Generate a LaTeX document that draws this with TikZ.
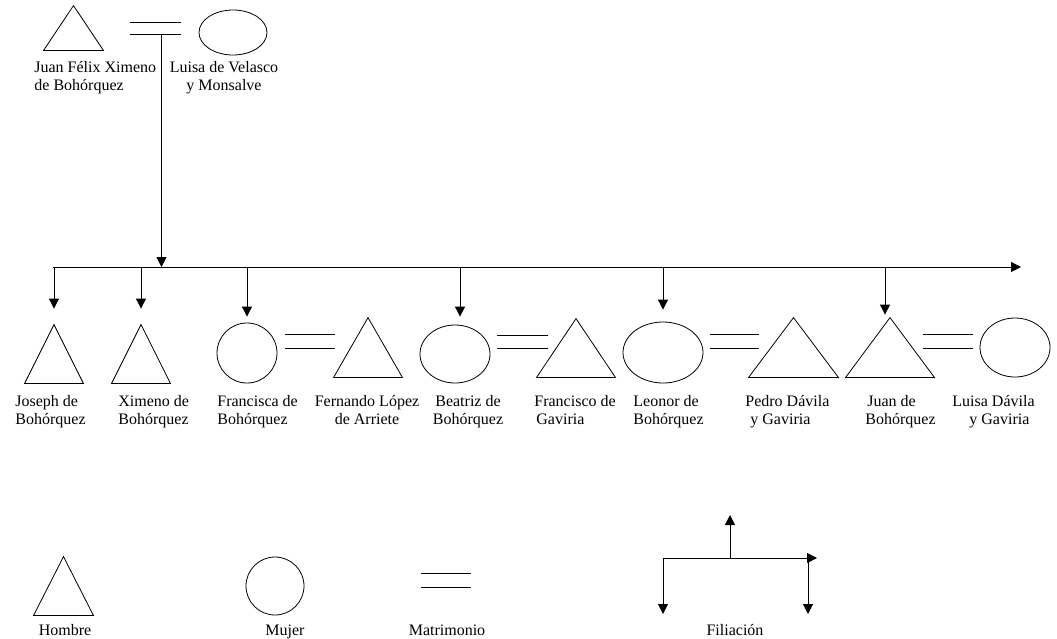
\documentclass[tikz,border=0pt]{standalone}
\usepackage{fontspec}
\setmainfont{Liberation Serif}
\usetikzlibrary{arrows.meta,shapes.geometric}
\begin{document}
\begin{tikzpicture}[x=1pt, y=-1pt, line width=0.8pt,
  arr/.style={-{Triangle[length=10pt,width=10pt]}},
  mujer/.style={draw, ellipse, inner sep=0pt},
  lbl/.style={font=\fontsize{16}{17.5}\selectfont, inner sep=0pt}]
\useasboundingbox (0,0) rectangle (1057,638);
% hombres: name/x/y/width/height
\foreach \n/\x/\y/\w/\h in {jfx/73.5/28/59/44, jos/54/354/58/58, xim/141/354/58/58,
    fer/368/347.5/68/59, fco/576/348/78/58, ped/793.5/347.5/89/59,
    jua/890/347.5/88/59, hom/63.5/586/59/58}{
  \node[minimum width=\w, minimum height=\h, inner sep=0pt] (\n) at (\x,\y) {};
  \draw (\n.south west) -- (\n.north) -- (\n.south east) -- cycle;
}
% mujeres
\node[mujer, minimum width=68, minimum height=45] (lvm) at (233,32.5) {};
\node[mujer, minimum width=60, minimum height=60] (fra) at (247,353) {};
\node[mujer, minimum width=70, minimum height=58] (bea) at (455,354) {};
\node[mujer, minimum width=80, minimum height=61] (leo) at (663,352.5) {};
\node[mujer, minimum width=70, minimum height=59] (lui) at (1015,347.5) {};
\node[mujer, minimum width=58, minimum height=58] (muj) at (275,586) {};
% matrimonios
\foreach \a/\b/\y/\z in {130/181/22/34, 285/335/334/348, 497/548/335/348,
    710/759/334/348, 923/973/334/348, 421/471/573/587}{
  \draw (\a,\y) -- (\b,\y) (\a,\z) -- (\b,\z);
}
% filiacion
\coordinate (dsc) at (161.5,34);
\coordinate (bar) at (53,267);
\coordinate (barend) at (1021,267);
\draw[arr] (bar) -- (barend);
\draw[arr] (dsc) -- (dsc |- bar);
\foreach \n/\dx/\g in {jos/0/16, xim/0/16, fra/0/6, bea/5/8, leo/0/12, jua/-5/3}{
  \draw[arr, shorten >=\g pt] ([xshift=\dx pt]\n.north |- bar) -- ([xshift=\dx pt]\n.north);
}
% leyenda
\coordinate (fl) at (663,558);
\coordinate (fr) at (817,558);
\draw[arr] (fl) -- (fr);
\draw[arr] (730,558) -- (730,515);
\draw[arr] (fl) -- (663,614);
\draw[arr] (808,558) -- (808,614);
% nombres
\node[lbl, anchor=north west, align=left] (tjfx) at (34,61) {Juan Félix Ximeno\\de Bohórquez};
\node[lbl, anchor=north, align=center] (tlvm) at (224,61) {Luisa de Velasco\\y Monsalve};
\node[lbl, anchor=north west, align=left] (tjos) at (15,395) {Joseph de\\Bohórquez};
\node[lbl, anchor=north west, align=left] (txim) at (118,395) {Ximeno de\\Bohórquez};
\node[lbl, anchor=north west, align=left] (tfra) at (217,395) {Francisca de\\Bohórquez};
\node[lbl, anchor=north, align=center] (tfer) at (367,395) {Fernando López\\de Arriete};
\node[lbl, anchor=north, align=center] (tbea) at (468,395) {Beatriz de\\Bohórquez};
\node[lbl, anchor=north west, align=left] (tfco) at (534,395) {Francisco de\\\hspace*{2pt}Gaviria};
\node[lbl, anchor=north west, align=left] (tleo) at (633,395) {Leonor de\\Bohórquez};
\node[lbl, anchor=north west, align=left] (tped) at (745,395) {Pedro Dávila\\\hspace*{5pt}y Gaviria};
\node[lbl, anchor=north west, align=left] (tjua) at (865,395) {\hspace*{2pt}Juan de\\Bohórquez};
\node[lbl, anchor=north west, align=left] (tlui) at (952,395) {Luisa Dávila\\\hspace*{17pt}y Gaviria};
\node[lbl, anchor=base] (thom) at (65,635) {Hombre};
\node[lbl, anchor=base] (tmuj) at (285,635) {Mujer};
\node[lbl, anchor=base] (tmat) at (447,635) {Matrimonio};
\node[lbl, anchor=base] (tfil) at (735,635) {Filiación};
\end{tikzpicture}
\end{document}
